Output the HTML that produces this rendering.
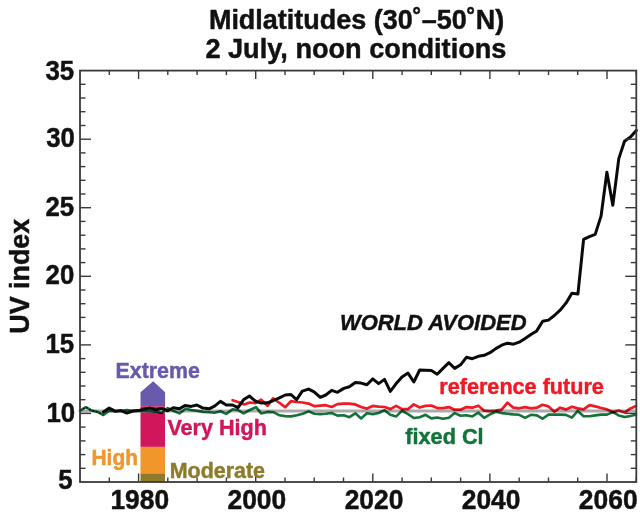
<!DOCTYPE html>
<html><head><meta charset="utf-8"><title>chart</title>
<style>
html,body{margin:0;padding:0;background:#fff;}
body{width:640px;height:521px;overflow:hidden;}
svg{display:block;font-family:"Liberation Sans",sans-serif;font-weight:bold;}
text{stroke-width:0.45px;stroke-linejoin:round;}
</style></head><body>
<svg width="640" height="521" viewBox="0 0 640 521">
<rect x="0" y="0" width="640" height="521" fill="#ffffff"/>
<!-- titles -->
<text id="t1" transform="translate(356.60,28.70) scale(1.000,1.040)" text-anchor="middle" font-size="27" fill="#111111" stroke="#111111">Midlatitudes (30˚–50˚N)</text>
<text id="t2" transform="translate(355.90,57.70) scale(1.000,1.040)" text-anchor="middle" font-size="27.15" fill="#111111" stroke="#111111">2 July, noon conditions</text>
<text id="yl" transform="translate(28.80,333.70) rotate(-90) scale(1.000,1.000)" font-size="26.85" fill="#111111" stroke="#111111">UV index</text>
<!-- UV category bar -->
<g id="bar">
<polygon points="140.5,406.3 140.5,392.2 153.2,381.2 165.1,392.2 165.1,406.3" fill="#6a5aab"/>
<rect x="140.5" y="406.3" width="24.5" height="40.6" fill="#d2165c"/>
<rect x="140.5" y="446.9" width="24.5" height="26.5" fill="#f0962b"/>
<rect x="140.5" y="473.4" width="24.5" height="8.6" fill="#8d7b2b"/>
</g>
<!-- gray reference line -->
<line x1="80" y1="411.0" x2="636.3" y2="411.0" stroke="#ababab" stroke-width="2.9"/>
<!-- series -->
<g fill="none" stroke-linejoin="round" stroke-linecap="round">
<polyline id="green" style="mix-blend-mode:multiply" stroke="#13733a" stroke-width="2.6" points="80.0,410.6 85.9,407.2 91.8,410.6 97.5,411.9 103.4,415.0 109.2,410.6 115.1,411.2 121.0,411.0 126.9,410.0 132.8,411.0 138.6,410.6 144.5,411.0 150.2,411.2 156.0,411.6 161.5,413.1 167.7,408.1 173.2,410.8 179.4,413.4 185.7,408.8 191.2,410.0 197.0,410.8 203.0,411.9 209.0,412.2 214.6,412.8 220.4,411.2 226.3,413.9 232.6,409.2 238.0,410.0 243.5,413.4 249.8,410.0 256.0,407.2 261.2,413.4 267.5,411.9 273.4,412.2 279.4,415.3 285.2,416.1 290.9,416.4 296.9,415.3 302.8,413.8 308.6,411.4 314.4,413.8 320.3,414.1 325.8,413.8 331.6,413.0 337.5,415.6 343.8,415.3 349.4,417.2 355.3,413.3 361.1,418.4 366.9,413.3 372.8,414.1 378.6,413.0 384.5,410.2 390.3,414.8 396.2,416.4 402.0,410.9 408.0,414.1 413.8,418.0 419.7,417.2 425.5,414.8 431.4,418.4 437.2,417.5 443.0,418.8 448.9,417.8 454.7,413.1 460.6,415.8 466.4,415.2 472.3,416.4 478.3,412.7 484.2,417.8 490.0,414.4 495.8,411.7 501.7,413.1 507.5,413.8 513.4,414.4 519.2,414.8 525.1,417.8 530.9,414.8 536.8,415.4 542.5,418.7 548.5,414.6 554.4,414.6 560.1,414.6 566.0,414.9 571.9,417.6 577.7,411.0 583.6,416.2 589.5,416.2 595.4,415.4 601.1,414.6 607.0,414.6 612.9,412.1 618.7,415.4 624.6,417.1 630.5,415.9 636.0,414.6"/>
<polyline id="red" style="mix-blend-mode:multiply" stroke="#ef1a23" stroke-width="2.7" points="232.6,400.2 238.8,402.2 244.3,404.5 249.8,402.5 255.5,403.1 261.2,399.7 267.5,405.9 273.1,398.4 278.9,402.5 285.2,407.2 290.9,401.2 296.9,402.0 302.3,402.5 308.6,403.6 314.4,406.2 320.3,405.6 325.8,405.2 331.6,407.0 337.5,404.1 343.8,403.6 349.4,403.6 355.3,404.4 361.1,407.0 366.9,408.6 372.8,405.9 378.6,406.6 384.5,407.0 390.3,409.1 396.2,405.9 402.0,409.1 408.0,409.1 413.8,404.4 419.7,407.5 425.5,405.9 431.4,405.5 437.2,408.1 443.0,408.1 448.9,407.1 454.7,409.7 460.6,409.7 466.4,407.1 472.3,407.7 478.3,405.7 484.2,410.7 490.0,411.1 495.8,410.7 501.7,409.7 507.5,402.7 513.4,407.7 519.2,408.3 525.1,407.1 530.9,408.3 536.8,407.7 542.5,404.8 548.5,406.4 554.4,411.7 560.1,407.7 566.0,409.4 571.9,406.7 577.7,408.4 583.6,409.4 589.5,405.1 595.4,406.4 601.1,408.0 607.0,409.4 612.9,412.1 618.7,410.5 624.6,412.6 630.5,408.4 636.0,406.1"/>
<polyline id="blackdot" stroke="#111" stroke-width="1.5" stroke-dasharray="1.6 2" stroke-linecap="butt" points="80.0,410.6 85.9,407.2 91.8,410.6 97.5,411.9 103.4,415.0"/>
<polyline id="black" stroke="#0a0a0a" stroke-width="3.0" points="103.4,411.9 109.2,408.1 115.1,411.2 121.0,410.6 126.9,413.1 132.8,411.0 138.6,410.6 144.5,409.0 150.2,408.1 156.0,410.0 161.5,408.4 167.7,410.8 173.2,407.7 179.4,408.8 184.9,405.6 191.2,406.4 196.9,405.0 202.9,408.1 209.1,408.8 214.6,406.1 220.4,401.4 226.3,405.0 232.6,405.0 238.0,407.7 243.5,399.8 249.4,396.0 255.5,401.2 261.7,403.1 267.5,402.8 273.4,400.5 279.4,397.8 285.2,395.0 290.9,394.5 296.6,399.7 302.3,391.1 308.6,389.1 314.1,391.9 320.3,397.3 325.8,395.0 331.6,390.3 337.5,392.3 343.8,388.4 349.4,386.7 355.3,382.5 361.1,383.1 366.9,384.7 372.8,378.9 378.6,383.6 384.5,379.4 390.3,391.4 396.2,383.6 402.0,376.9 408.0,373.1 413.8,382.0 419.7,370.0 425.5,370.3 431.4,370.6 437.2,374.2 443.0,368.4 448.9,362.7 454.7,368.4 460.6,364.8 466.4,357.3 472.3,358.7 478.3,356.3 484.2,355.3 490.0,352.7 495.8,348.6 501.7,345.2 507.5,343.2 513.4,344.2 519.2,342.2 525.1,338.5 530.9,334.6 536.7,330.9 542.7,321.3 548.4,320.1 554.4,315.5 560.1,310.2 566.1,302.9 571.9,293.2 577.9,294.1 583.6,239.3 589.4,236.6 595.2,234.4 601.1,215.9 606.9,172.3 612.8,205.2 618.8,158.6 624.5,141.2 630.5,136.9 636.3,130.4"/>
</g>
<!-- axes -->
<g stroke="#3a3a3a" stroke-width="1.4" fill="none">
<line x1="109.3" y1="482.0" x2="109.3" y2="477.5"/>
<line x1="109.3" y1="70.6" x2="109.3" y2="75.1"/>
<line x1="138.6" y1="482.0" x2="138.6" y2="473.5"/>
<line x1="138.6" y1="70.6" x2="138.6" y2="79.1"/>
<line x1="167.8" y1="482.0" x2="167.8" y2="477.5"/>
<line x1="167.8" y1="70.6" x2="167.8" y2="75.1"/>
<line x1="197.1" y1="482.0" x2="197.1" y2="477.5"/>
<line x1="197.1" y1="70.6" x2="197.1" y2="75.1"/>
<line x1="226.4" y1="482.0" x2="226.4" y2="477.5"/>
<line x1="226.4" y1="70.6" x2="226.4" y2="75.1"/>
<line x1="255.7" y1="482.0" x2="255.7" y2="473.5"/>
<line x1="255.7" y1="70.6" x2="255.7" y2="79.1"/>
<line x1="285.0" y1="482.0" x2="285.0" y2="477.5"/>
<line x1="285.0" y1="70.6" x2="285.0" y2="75.1"/>
<line x1="314.2" y1="482.0" x2="314.2" y2="477.5"/>
<line x1="314.2" y1="70.6" x2="314.2" y2="75.1"/>
<line x1="343.5" y1="482.0" x2="343.5" y2="477.5"/>
<line x1="343.5" y1="70.6" x2="343.5" y2="75.1"/>
<line x1="372.8" y1="482.0" x2="372.8" y2="473.5"/>
<line x1="372.8" y1="70.6" x2="372.8" y2="79.1"/>
<line x1="402.1" y1="482.0" x2="402.1" y2="477.5"/>
<line x1="402.1" y1="70.6" x2="402.1" y2="75.1"/>
<line x1="431.3" y1="482.0" x2="431.3" y2="477.5"/>
<line x1="431.3" y1="70.6" x2="431.3" y2="75.1"/>
<line x1="460.6" y1="482.0" x2="460.6" y2="477.5"/>
<line x1="460.6" y1="70.6" x2="460.6" y2="75.1"/>
<line x1="489.9" y1="482.0" x2="489.9" y2="473.5"/>
<line x1="489.9" y1="70.6" x2="489.9" y2="79.1"/>
<line x1="519.2" y1="482.0" x2="519.2" y2="477.5"/>
<line x1="519.2" y1="70.6" x2="519.2" y2="75.1"/>
<line x1="548.5" y1="482.0" x2="548.5" y2="477.5"/>
<line x1="548.5" y1="70.6" x2="548.5" y2="75.1"/>
<line x1="577.7" y1="482.0" x2="577.7" y2="477.5"/>
<line x1="577.7" y1="70.6" x2="577.7" y2="75.1"/>
<line x1="607.0" y1="482.0" x2="607.0" y2="473.5"/>
<line x1="607.0" y1="70.6" x2="607.0" y2="79.1"/>
<line x1="636.3" y1="482.0" x2="636.3" y2="477.5"/>
<line x1="636.3" y1="70.6" x2="636.3" y2="75.1"/>
<line x1="80.0" y1="468.3" x2="85.5" y2="468.3"/>
<line x1="636.3" y1="468.3" x2="630.8" y2="468.3"/>
<line x1="80.0" y1="454.6" x2="85.5" y2="454.6"/>
<line x1="636.3" y1="454.6" x2="630.8" y2="454.6"/>
<line x1="80.0" y1="440.9" x2="85.5" y2="440.9"/>
<line x1="636.3" y1="440.9" x2="630.8" y2="440.9"/>
<line x1="80.0" y1="427.1" x2="85.5" y2="427.1"/>
<line x1="636.3" y1="427.1" x2="630.8" y2="427.1"/>
<line x1="80.0" y1="413.4" x2="91.0" y2="413.4"/>
<line x1="636.3" y1="413.4" x2="625.3" y2="413.4"/>
<line x1="80.0" y1="399.7" x2="85.5" y2="399.7"/>
<line x1="636.3" y1="399.7" x2="630.8" y2="399.7"/>
<line x1="80.0" y1="386.0" x2="85.5" y2="386.0"/>
<line x1="636.3" y1="386.0" x2="630.8" y2="386.0"/>
<line x1="80.0" y1="372.3" x2="85.5" y2="372.3"/>
<line x1="636.3" y1="372.3" x2="630.8" y2="372.3"/>
<line x1="80.0" y1="358.6" x2="85.5" y2="358.6"/>
<line x1="636.3" y1="358.6" x2="630.8" y2="358.6"/>
<line x1="80.0" y1="344.9" x2="91.0" y2="344.9"/>
<line x1="636.3" y1="344.9" x2="625.3" y2="344.9"/>
<line x1="80.0" y1="331.2" x2="85.5" y2="331.2"/>
<line x1="636.3" y1="331.2" x2="630.8" y2="331.2"/>
<line x1="80.0" y1="317.4" x2="85.5" y2="317.4"/>
<line x1="636.3" y1="317.4" x2="630.8" y2="317.4"/>
<line x1="80.0" y1="303.7" x2="85.5" y2="303.7"/>
<line x1="636.3" y1="303.7" x2="630.8" y2="303.7"/>
<line x1="80.0" y1="290.0" x2="85.5" y2="290.0"/>
<line x1="636.3" y1="290.0" x2="630.8" y2="290.0"/>
<line x1="80.0" y1="276.3" x2="91.0" y2="276.3"/>
<line x1="636.3" y1="276.3" x2="625.3" y2="276.3"/>
<line x1="80.0" y1="262.6" x2="85.5" y2="262.6"/>
<line x1="636.3" y1="262.6" x2="630.8" y2="262.6"/>
<line x1="80.0" y1="248.9" x2="85.5" y2="248.9"/>
<line x1="636.3" y1="248.9" x2="630.8" y2="248.9"/>
<line x1="80.0" y1="235.2" x2="85.5" y2="235.2"/>
<line x1="636.3" y1="235.2" x2="630.8" y2="235.2"/>
<line x1="80.0" y1="221.4" x2="85.5" y2="221.4"/>
<line x1="636.3" y1="221.4" x2="630.8" y2="221.4"/>
<line x1="80.0" y1="207.7" x2="91.0" y2="207.7"/>
<line x1="636.3" y1="207.7" x2="625.3" y2="207.7"/>
<line x1="80.0" y1="194.0" x2="85.5" y2="194.0"/>
<line x1="636.3" y1="194.0" x2="630.8" y2="194.0"/>
<line x1="80.0" y1="180.3" x2="85.5" y2="180.3"/>
<line x1="636.3" y1="180.3" x2="630.8" y2="180.3"/>
<line x1="80.0" y1="166.6" x2="85.5" y2="166.6"/>
<line x1="636.3" y1="166.6" x2="630.8" y2="166.6"/>
<line x1="80.0" y1="152.9" x2="85.5" y2="152.9"/>
<line x1="636.3" y1="152.9" x2="630.8" y2="152.9"/>
<line x1="80.0" y1="139.2" x2="91.0" y2="139.2"/>
<line x1="636.3" y1="139.2" x2="625.3" y2="139.2"/>
<line x1="80.0" y1="125.5" x2="85.5" y2="125.5"/>
<line x1="636.3" y1="125.5" x2="630.8" y2="125.5"/>
<line x1="80.0" y1="111.7" x2="85.5" y2="111.7"/>
<line x1="636.3" y1="111.7" x2="630.8" y2="111.7"/>
<line x1="80.0" y1="98.0" x2="85.5" y2="98.0"/>
<line x1="636.3" y1="98.0" x2="630.8" y2="98.0"/>
<line x1="80.0" y1="84.3" x2="85.5" y2="84.3"/>
<line x1="636.3" y1="84.3" x2="630.8" y2="84.3"/>
</g>
<rect x="80.0" y="70.6" width="556.3" height="411.4" fill="none" stroke="#3a3a3a" stroke-width="1.8"/>
<g>
<text id="x1980" transform="translate(139.76,508.60) scale(1.000,1.040)" text-anchor="middle" font-size="26.4" fill="#111111" stroke="#111111">1980</text>
<text id="x2000" transform="translate(256.87,508.60) scale(1.000,1.040)" text-anchor="middle" font-size="26.4" fill="#111111" stroke="#111111">2000</text>
<text id="x2020" transform="translate(373.99,508.60) scale(1.000,1.040)" text-anchor="middle" font-size="26.4" fill="#111111" stroke="#111111">2020</text>
<text id="x2040" transform="translate(491.11,508.60) scale(1.000,1.040)" text-anchor="middle" font-size="26.4" fill="#111111" stroke="#111111">2040</text>
<text id="x2060" transform="translate(608.22,508.60) scale(1.000,1.040)" text-anchor="middle" font-size="26.4" fill="#111111" stroke="#111111">2060</text>
<text id="y5" transform="translate(72.50,488.90) scale(1.000,1.060)" text-anchor="end" font-size="25.8" fill="#111111" stroke="#111111">5</text>
<text id="y10" transform="translate(75.20,422.10) scale(1.000,1.060)" text-anchor="end" font-size="25.8" fill="#111111" stroke="#111111">10</text>
<text id="y15" transform="translate(74.20,353.30) scale(1.000,1.060)" text-anchor="end" font-size="25.8" fill="#111111" stroke="#111111">15</text>
<text id="y20" transform="translate(74.30,284.30) scale(1.000,1.060)" text-anchor="end" font-size="25.8" fill="#111111" stroke="#111111">20</text>
<text id="y25" transform="translate(74.20,215.60) scale(1.000,1.060)" text-anchor="end" font-size="25.8" fill="#111111" stroke="#111111">25</text>
<text id="y30" transform="translate(74.90,146.90) scale(1.000,1.060)" text-anchor="end" font-size="25.8" fill="#111111" stroke="#111111">30</text>
<text id="y35" transform="translate(74.20,80.30) scale(1.000,1.060)" text-anchor="end" font-size="25.8" fill="#111111" stroke="#111111">35</text>
</g>
<!-- annotations -->
<text id="wa" transform="translate(339.90,330.20) scale(1.022,1.040)" font-style="italic" font-size="21.5" fill="#111111" stroke="#111111">WORLD AVOIDED</text>
<text id="rf" transform="translate(439.30,394.00) scale(1.006,1.040)" font-size="21.5" fill="#ef1a23" stroke="#ef1a23">reference future</text>
<text id="fc" transform="translate(405.30,443.50) scale(1.018,1.040)" font-size="21.3" fill="#13733a" stroke="#13733a">fixed Cl</text>
<text id="ex" transform="translate(115.60,377.60) scale(1.000,1.040)" font-size="21.35" fill="#6a5aab" stroke="#6a5aab">Extreme</text>
<text id="vh" transform="translate(167.40,435.00) scale(1.000,1.040)" font-size="21.6" fill="#d2165c" stroke="#d2165c">Very High</text>
<text id="hi" transform="translate(91.50,465.00) scale(1.000,1.040)" font-size="20.9" fill="#f0962b" stroke="#f0962b">High</text>
<text id="mo" transform="translate(169.70,477.50) scale(1.000,1.040)" font-size="21.45" fill="#8d7b2b" stroke="#8d7b2b">Moderate</text>
</svg>
</body></html>
